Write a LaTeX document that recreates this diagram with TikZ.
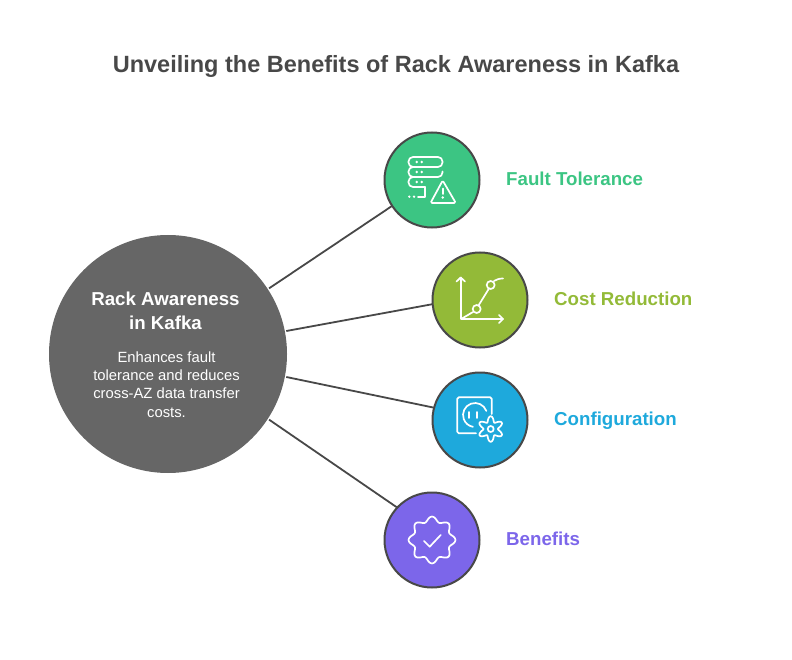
\documentclass[tikz,border=0pt]{standalone}
\usepackage{fontspec}
\setmainfont{Liberation Sans}
\definecolor{inkgrey}{HTML}{484848}
\definecolor{maingrey}{HTML}{666666}
\definecolor{faultgreen}{HTML}{3CC583}
\definecolor{costolive}{HTML}{93BA38}
\definecolor{configblue}{HTML}{1EA9DC}
\definecolor{benefitpurple}{HTML}{7C66EA}
\tikzset{
    every node/.style={align=center,},
    topic/.style={draw=inkgrey,line width=2pt,circle,minimum size=95pt,inner sep=0pt,outer sep=0pt,},
    topiclabel/.style={anchor=base west,inner sep=0pt,font=\fontsize{18.7}{22}\selectfont\bfseries,},
    link/.style={draw=inkgrey,line width=1.8pt,},
    icon/.style={draw=white,line width=1.7pt,line cap=round,line join=round,},
}

\begin{document}
\begin{tikzpicture}[x=1pt,y=-1pt]
    \useasboundingbox (0,0) rectangle (792,660);

    \node[inkgrey,font=\fontsize{23.5}{28}\selectfont\bfseries] (title) at (396,66.5) {Unveiling the Benefits of Rack Awareness in Kafka};

    \node[circle,fill=maingrey,minimum size=238pt,inner sep=0pt,outer sep=1.5pt] (main) at (168,354) {};
    \node[white,font=\fontsize{18.7}{24}\selectfont\bfseries] (main_head) at (165.5,311) {Rack Awareness\\in Kafka};
    \node[white,font=\fontsize{14.8}{18.2}\selectfont] (main_text) at (166.5,384.5) {Enhances fault\\tolerance and reduces\\cross-AZ data transfer\\costs.};

    \node[topic,fill=faultgreen] (fault) at (432,180) {};
    \node[topic,fill=costolive] (cost) at (480,300) {};
    \node[topic,fill=configblue] (config) at (480,420) {};
    \node[topic,fill=benefitpurple] (benefits) at (432,540) {};

    \node[topiclabel,faultgreen] (fault_label) at (506,185.5) {Fault Tolerance};
    \node[topiclabel,costolive] (cost_label) at (554,305.5) {Cost Reduction};
    \node[topiclabel,configblue] (config_label) at (554,425.5) {Configuration};
    \node[topiclabel,benefitpurple] (benefits_label) at (506,545.5) {Benefits};

    \draw[link] (main.33) to (fault.213);
    \draw[link] (main.11.5) to (cost.185);
    \draw[link] (main.-11) to (config.165);
    \draw[link] (main.-33) to (benefits.137);

    % server and warning sign
    \draw[icon,rounded corners=4.5pt] (408.5,157) rectangle (442.5,167);
    \draw[icon,rounded corners=4.5pt] (413,167) -- (408.5,167) -- (408.5,177) -- (442.5,177) -- (442.5,171.5);
    \draw[icon,rounded corners=4.5pt] (413,177) -- (408.5,177) -- (408.5,187) -- (425,187);
    \foreach \y in {162,172,182} {
        \fill[white] (416.7,\y) circle (1.3pt) (421.7,\y) circle (1.3pt);
    }
    \draw[icon] (425,187) -- (425,196.7) -- (418,196.7);
    \fill[white] (409.3,196.7) circle (1.3pt) (414,196.7) circle (1.3pt);
    \draw[icon,rounded corners=1.5pt] (442.7,180.5) -- (455.8,203) -- (430.5,203) -- cycle;
    \draw[icon] (442.7,188.5) -- (442.7,194);
    \fill[white] (442.7,197.5) circle (1.3pt);

    % chart
    \draw[icon] (460.7,277.5) -- (460.7,319) -- (503,319);
    \draw[icon] (456.5,281.5) -- (460.7,277.5) -- (465,281.5);
    \draw[icon] (499,315) -- (503,319) -- (499,323);
    \draw[icon] (462,318.5) -- (473,312);
    \draw[icon] (478.5,305.5) -- (489,288.5);
    \draw[icon] (494,281) .. controls (496.5,279.5) and (499,278.5) .. (503,278.5);
    \draw[icon] (476.7,309) circle (4pt);
    \draw[icon] (490.7,285) circle (4pt);

    % socket and gear
    \draw[icon,rounded corners=1.5pt] (491.7,414) -- (491.7,397.3) -- (457.3,397.3) -- (457.3,433.3) -- (476,433.3);
    \draw[icon] (486.3,410.9) arc (-20:-260:12);
    \draw[icon] (469.3,412) -- (469.3,418);
    \draw[icon] (477.3,412) -- (477.3,418);
    \draw[icon] plot[smooth cycle,domain=0:355,samples=72] ({490.7+(10-2.8*cos(6*\x))*cos(\x)},{429+(10-2.8*cos(6*\x))*sin(\x)});
    \draw[icon] (490.7,429) circle (3pt);

    % badge
    \draw[icon] plot[smooth cycle,domain=0:355,samples=72] ({432+(21+2.5*cos(8*\x))*cos(\x)},{540+(21+2.5*cos(8*\x))*sin(\x)});
    \draw[icon] (424,541) -- (429.7,546.7) -- (440.7,535);
\end{tikzpicture}
\end{document}
